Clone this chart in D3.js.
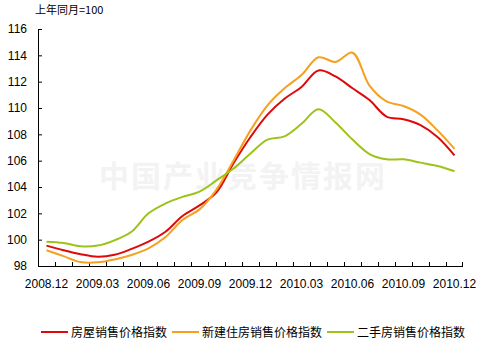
<!DOCTYPE html>
<html>
<head>
<meta charset="utf-8">
<script src="https://cdn.jsdelivr.net/npm/d3@7"></script>
<style>
  body { margin: 0; background: #fff; }
  text { font-family: "Liberation Sans", Arial, "Noto Sans CJK SC", sans-serif; }
  .cjk { font-family: "Noto Sans CJK SC", sans-serif; }
</style>
</head>
<body>
<svg id="chart" width="482" height="358"></svg>
<script>
// months 2008.12 .. 2010.12
const months = ["2008.12","2009.01","2009.02","2009.03","2009.04","2009.05","2009.06","2009.07","2009.08",
  "2009.09","2009.10","2009.11","2009.12","2010.01","2010.02","2010.03","2010.04","2010.05","2010.06",
  "2010.07","2010.08","2010.09","2010.10","2010.11","2010.12"];
const tickLabels = ["2008.12","2009.03","2009.06","2009.09","2009.12","2010.03","2010.06","2010.09","2010.12"];
const yTicks = [98,100,102,104,106,108,110,112,114,116];

const names = ["房屋销售价格指数","新建住房销售价格指数","二手房销售价格指数"];
const housing = [99.55,99.2,98.9,98.7,98.85,99.3,99.85,100.6,101.8,102.6,103.6,105.8,107.8,109.5,110.7,111.6,112.85,112.4,111.5,110.6,109.35,109.15,108.7,107.8,106.4];
const newHomes = [99.2,98.75,98.3,98.28,98.5,98.84,99.34,100.2,101.5,102.3,103.8,106.0,108.3,110.2,111.5,112.5,113.85,113.5,114.2,111.7,110.5,110.15,109.5,108.3,106.9];
const resale  = [99.85,99.75,99.5,99.55,99.95,100.6,102.0,102.75,103.25,103.65,104.5,105.4,106.55,107.6,107.85,108.8,109.9,108.9,107.6,106.5,106.1,106.1,105.85,105.6,105.2];
const colors = ["#dd0a0a","#f5a01e","#9dc31b"];

const svg = d3.select("#chart");

const x = d3.scaleBand().domain(months).range([38, 463]).padding(0);
const y = d3.scaleLinear().domain([98, 116]).range([266, 29]);
const cx = d => x(d) + x.bandwidth() / 2;

// watermark
svg.append("text")
  .attr("class", "cjk")
  .attr("x", 243).attr("y", 187)
  .attr("text-anchor", "middle")
  .attr("font-size", 30)
  .attr("font-weight", "bold")
  .attr("letter-spacing", 2)
  .attr("fill", "#f3f3f3")
  .text("中国产业竞争情报网");

// title
svg.append("text")
  .attr("class", "cjk")
  .attr("x", 35).attr("y", 14)
  .attr("font-size", 11)
  .text("上年同月=100");

// y axis
const yAxis = svg.append("g")
  .attr("transform", "translate(38,0)")
  .call(d3.axisLeft(y).tickValues(yTicks).tickSizeInner(-4).tickSizeOuter(0).tickPadding(11));
yAxis.selectAll("text").attr("font-size", 12).attr("fill", "#000")
  .style("font-family", "'Liberation Sans', Arial, sans-serif");
yAxis.select(".domain").attr("stroke", "#000");
yAxis.selectAll(".tick line").attr("stroke", "#000");

// x axis
svg.append("line")
  .attr("x1", 38).attr("x2", 463)
  .attr("y1", 266.5).attr("y2", 266.5)
  .attr("stroke", "#000");

svg.append("g").selectAll("line")
  .data(months.concat(["end"]))
  .join("line")
  .attr("x1", d => d === "end" ? x.range()[1] - 0.5 : x(d) + 0.5)
  .attr("x2", d => d === "end" ? x.range()[1] - 0.5 : x(d) + 0.5)
  .attr("y1", 266).attr("y2", 262)
  .attr("stroke", "#000");

svg.append("g").selectAll("text")
  .data(tickLabels)
  .join("text")
  .attr("x", d => cx(d))
  .attr("y", 288)
  .attr("text-anchor", "middle")
  .attr("font-size", 12)
  .text(d => d);

// lines
const line = d3.line()
  .x((d, i) => cx(months[i]))
  .y(d => y(d))
  .curve(d3.curveCatmullRom.alpha(0.5));

[housing, newHomes, resale].forEach((s, k) => {
  svg.append("path")
    .datum(s)
    .attr("fill", "none")
    .attr("stroke", colors[k])
    .attr("stroke-width", 2)
    .attr("d", line);
});

// legend
const legendX = [41, 172, 327];
const lg = svg.append("g").selectAll("g")
  .data(names)
  .join("g")
  .attr("transform", (d, i) => `translate(${legendX[i]},332)`);
lg.append("line")
  .attr("x1", 0).attr("x2", 27)
  .attr("stroke", (d, i) => colors[i])
  .attr("stroke-width", 2);
lg.append("text")
  .attr("class", "cjk")
  .attr("x", 30).attr("y", 4.5)
  .attr("font-size", 12)
  .text(d => d);
</script>
</body>
</html>
